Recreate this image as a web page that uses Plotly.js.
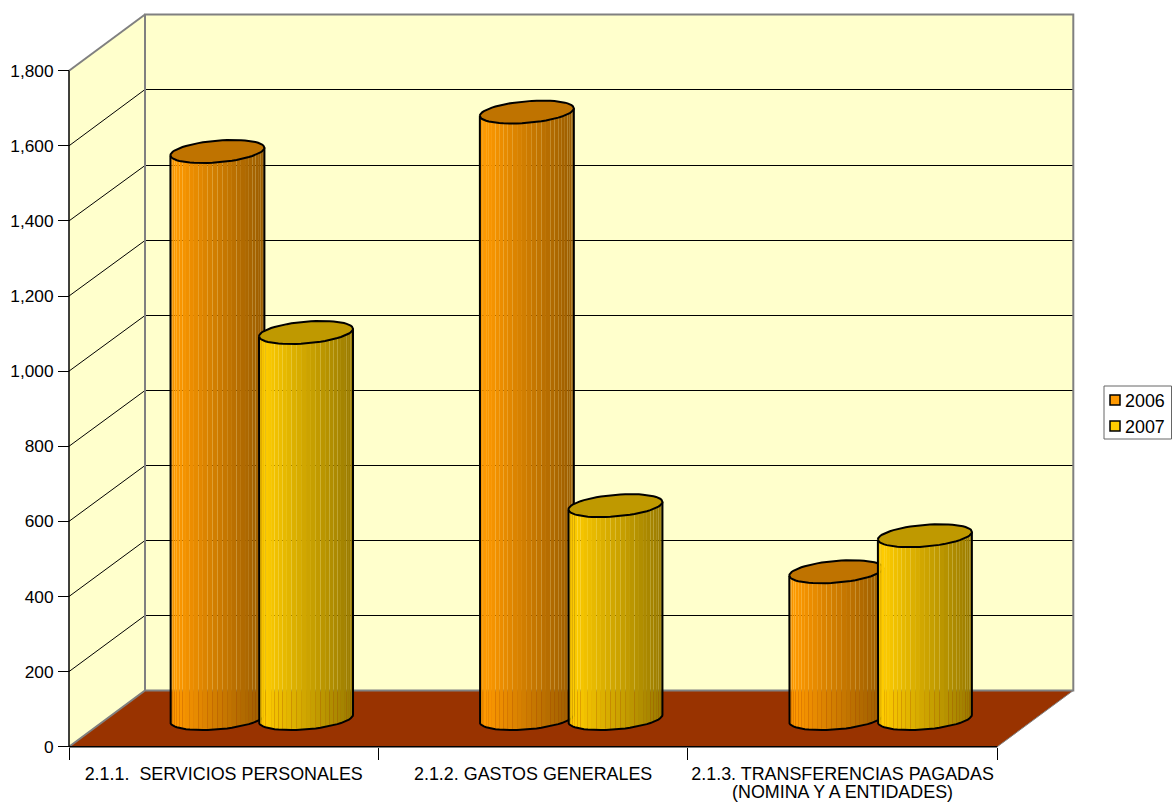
<!DOCTYPE html>
<html>
<head>
<meta charset="utf-8">
<script src="https://cdn.plot.ly/plotly-3.0.1.min.js"></script>
<style>html,body{margin:0;padding:0;background:#fff;overflow:hidden}</style>
</head>
<body>
<div id="chart" style="width:1172px;height:803px"></div>
<script>
// Budget execution by group, two years, drawn as oblique 3D cylinders.
const categories = ["2.1.1.  SERVICIOS PERSONALES", "2.1.2. GASTOS GENERALES", "2.1.3. TRANSFERENCIAS PAGADAS"];
const categoryNote = "(NOMINA Y A ENTIDADES)";   // second line under the third group
const years = ["2006", "2007"];
const values2006 = [1510, 1615, 391];
const values2007 = [1028, 567, 487];
const yTicks = [0, 200, 400, 600, 800, 1000, 1200, 1400, 1600, 1800];
const yTickText = ["0", "200", "400", "600", "800", "1,000", "1,200", "1,400", "1,600", "1,800"];

const W = 1172, H = 803;
const pxPerCat = 928.3 / 3, pxPerVal = 676 / 1800;   // axis scales
const originX = 69, originY = 746.7;                 // pixel of category 0, value 0
const depthX = 76 / pxPerCat, depthY = 56.2 / pxPerVal; // full depth of the box, in data units

const FONT_X = {family: '"Liberation Sans", Arial, sans-serif', size: 17.9, color: '#000'};
const FONT_Y = {family: '"Liberation Sans", Arial, sans-serif', size: 17.3, color: '#000'};
const traces = [];

// Project (category, value, depth 0..1) on to the 2D axes.
const pt = (c, v, d) => [c + d * depthX, v + d * depthY];

function poly(points, style) {
  traces.push(Object.assign({
    type: 'scatter', mode: 'lines', hoverinfo: 'skip', showlegend: false,
    x: points.map(p => p ? p[0] : null), y: points.map(p => p ? p[1] : null)
  }, style));
}
const filled = (points, color, extra) => poly(points, Object.assign({
  fill: 'toself', fillcolor: color, line: {width: 0}}, extra || {}));

// Box: side wall, back wall, floor
const maxVal = yTicks[yTicks.length - 1];
filled([pt(0,0,0), pt(0,maxVal,0), pt(0,maxVal,1), pt(0,0,1)], '#FFFFCC');
filled([pt(0,0,1), pt(0,maxVal,1), pt(3,maxVal,1), pt(3,0,1)], '#FFFFCC');
filled([pt(0,0,0), pt(3,0,0), pt(3,0,1), pt(0,0,1)], '#993300');

// Gridlines run along the side wall and then the back wall; the level along
// the back wall sits on a pixel row so the line stays sharp
const backLevel = v => {
  const row = originY - (v + depthY) * pxPerVal;
  return (originY - (Math.floor(row + 0.3) + 0.5)) / pxPerVal - depthY;
};
yTicks.slice(1, -1).forEach(v => {
  const lv = backLevel(v);
  poly([pt(0,v,0), pt(0,lv,1), pt(3,lv,1)], {line: {color: '#000', width: 1}});
});

// Box edges
poly([pt(0,0,0), pt(0,0,1), pt(3,0,1), pt(3,maxVal,1), pt(0,maxVal,1), pt(0,0,1)], {line: {color: '#808080', width: 2}});
poly([pt(0,maxVal,0), pt(0,maxVal,1)], {line: {color: '#808080', width: 2}});
poly([pt(3,0,0), pt(3,0,1)], {line: {color: '#808080', width: 1}});
poly([pt(0,0,0), pt(0,maxVal,0)], {line: {color: '#000', width: 1.5}});
poly([pt(0,0,0), pt(3,0,0)], {line: {color: '#000', width: 1.5}});

// Cylinder cross-section in the floor plane, sheared by the oblique depth
const radA = 44.4 / pxPerCat, radB = 15.4 / pxPerCat, radE = 11.5 / pxPerVal;
const theta0 = Math.atan2(radB, radA);
const STRIPS = 30;
const ring = (cx, base, th) => [cx + radA * Math.cos(th) + radB * Math.sin(th), base + radE * Math.sin(th)];

function cylinder(catCenter, value, rgb, name) {
  const [cx, cy] = pt(catCenter, 0, 0.5);
  const left = theta0 + Math.PI;
  const step = Math.PI / STRIPS;
  const xMin = ring(cx, 0, left)[0], xMax = ring(cx, 0, left + Math.PI)[0];
  const shade = f => 'rgb(' + rgb.map(c => Math.round(c * f)).join(',') + ')';
  for (let i = 0; i < STRIPS; i++) {
    const a = left + i * step, b = a + step;
    const frac = (ring(cx, 0, (a + b) / 2)[0] - xMin) / (xMax - xMin);
    const f = (frac < 0.05 ? 0.96 : 1.02 - 0.42 * frac);
    filled([ring(cx, cy, a), ring(cx, cy, b), ring(cx, cy + value, b), ring(cx, cy + value, a)],
           shade(Math.min(f, 1)), {name: name});
  }
  // outline of the side and the lower rim
  const rim = [];
  for (let i = 0; i <= STRIPS; i++) rim.push(ring(cx, cy, left + i * step));
  poly([ring(cx, cy + value, left)].concat(rim, [ring(cx, cy + value, left + Math.PI)]),
       {line: {color: '#000', width: 2}, name: name});
  // top cap
  const cap = [];
  for (let i = 0; i <= 2 * STRIPS; i++) cap.push(ring(cx, cy + value, left + i * step));
  poly(cap, {fill: 'toself', fillcolor: shade(0.75), line: {color: '#000', width: 2}, name: name});
}

const ORANGE = [255, 153, 0], YELLOW = [255, 204, 0];
const barOffset = 44.3 / pxPerCat;
categories.forEach((_, i) => {
  cylinder(i + 0.5 - barOffset, values2006[i], ORANGE, years[0]);
  cylinder(i + 0.5 + barOffset, values2007[i], YELLOW, years[1]);
});

// Key at the right-hand side
const px = x => x / W, py = y => 1 - y / H;
const rectShape = (x0, y0, x1, y1, fill, lineColor, lw) => ({
  type: 'rect', xref: 'paper', yref: 'paper', layer: 'above',
  x0: px(x0), x1: px(x1), y0: py(y0), y1: py(y1),
  fillcolor: fill, line: {color: lineColor, width: lw}
});
const keyShapes = [
  rectShape(1104, 386, 1171.5, 439, '#FFFFFF', '#666666', 1),
  rectShape(1110, 395, 1120, 405, '#FF9900', '#000', 1.5),
  rectShape(1110, 421, 1120, 431, '#FFCC00', '#000', 1.5)
];
const keyLabels = years.map((y, i) => ({
  xref: 'paper', yref: 'paper', x: px(1123), y: py(401 + i * 26),
  xanchor: 'left', yanchor: 'middle', text: y, showarrow: false, font: FONT_X
}));
keyLabels.push({
  xref: 'x', yref: 'paper', x: 2.5, y: 0, xanchor: 'center', yanchor: 'bottom',
  text: categoryNote, showarrow: false, font: FONT_X, borderpad: 0
});

const layout = {
  width: W, height: H,
  margin: {l: 0, r: 0, t: 0, b: 0, pad: 0},
  paper_bgcolor: '#fff', plot_bgcolor: '#fff',
  showlegend: false,
  font: FONT_X,
  xaxis: {
    range: [-originX / pxPerCat, (W - originX) / pxPerCat],
    anchor: 'free', position: (H - originY) / H, fixedrange: true,
    showgrid: false, zeroline: false, showline: false,
    tickmode: 'array', tickvals: [0.5, 1.5, 2.5], ticktext: categories, ticks: '', tickangle: 0,
    ticklabelstandoff: 14, tickfont: FONT_X,
    minor: {tickmode: 'array', tickvals: [0, 1, 2, 3], ticks: 'outside', ticklen: 12, tickcolor: '#000', tickwidth: 1, showgrid: false}
  },
  yaxis: {
    range: [(originY - H) / pxPerVal, originY / pxPerVal],
    anchor: 'free', position: originX / W, fixedrange: true,
    showgrid: false, zeroline: false, showline: false,
    tickmode: 'array', tickvals: yTicks, ticktext: yTickText,
    ticks: 'outside', ticklen: 11, tickcolor: '#000', tickwidth: 1,
    ticklabelstandoff: 1, tickfont: FONT_Y
  },
  shapes: keyShapes,
  annotations: keyLabels
};

Plotly.newPlot('chart', traces, layout, {displayModeBar: false, staticPlot: true});
</script>
</body>
</html>
